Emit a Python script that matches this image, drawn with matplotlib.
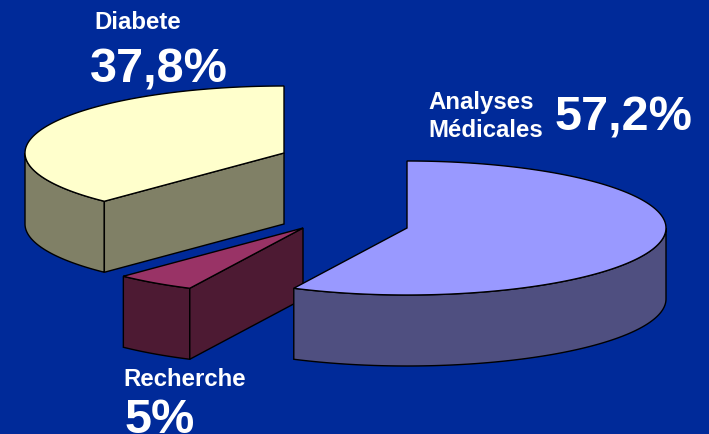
import matplotlib.pyplot as plt
import numpy as np
from matplotlib.patches import Polygon

plt.rcParams['font.family'] = ['Liberation Sans', 'DejaVu Sans']

labels = ['Analyses\nMédicales', 'Recherche', 'Diabete']
values = [57.2, 5.0, 37.8]
value_labels = ['57,2%', '5%', '37,8%']
top_colors = ['#9999ff', '#993366', '#ffffcc']
side_colors = ['#4f4f80', '#4d1a33', '#808066']
apexes = [(407, 229), (303, 229), (284, 154)]
shows_cut_face = [False, True, True]

a = 259
b = 67
depth = 71
bg = '#002a99'


def rim(cx, cy, t):
    return np.column_stack([cx + a*np.sin(t), cy - b*np.cos(t)])


fig = plt.figure(figsize=(7.09, 4.35), dpi=100, facecolor=bg)
ax = fig.add_axes([0, 0, 1, 1])
ax.set_xlim(0, 709)
ax.set_ylim(435, 0)
ax.axis('off')

edges = np.cumsum([0] + values) / sum(values) * 2*np.pi
down = np.array([0, depth])

# back to front: the big slice sits over the small one
for i in [2, 1, 0]:
    cx, cy = apexes[i]
    t0, t1 = edges[i], edges[i+1]
    arc = rim(cx, cy, np.linspace(t0, t1, 200))
    apex = np.array([cx, cy])

    # outer wall, only the part on the front half of the ellipse
    lo, hi = max(t0, np.pi/2), min(t1, 3*np.pi/2)
    w = rim(cx, cy, np.linspace(lo, hi, 200))
    ax.add_patch(Polygon(np.vstack([w, (w + down)[::-1]]), fc=side_colors[i],
                         ec='k', lw=1))

    if shows_cut_face[i]:
        p = rim(cx, cy, np.array([t0]))[0]
        ax.add_patch(Polygon([apex, p, p + down, apex + down], fc=side_colors[i],
                             ec='k', lw=1))

    ax.add_patch(Polygon(np.vstack([apex, arc]), fc=top_colors[i], ec='k', lw=1))

bold = dict(color='white', fontweight='bold', va='baseline')
ax.text(94, 29, labels[2], fontsize=17.3, **bold)
ax.text(90, 83, value_labels[2], fontsize=35, **bold)
ax.text(428, 137, labels[0], fontsize=17.3, linespacing=1.25, **bold)
ax.text(555, 131, value_labels[0], fontsize=35, **bold)
ax.text(123, 386, labels[1], fontsize=17.3, **bold)
ax.text(125, 433, value_labels[1], fontsize=35, **bold)

fig.savefig('out.png', dpi=100, facecolor=bg)
